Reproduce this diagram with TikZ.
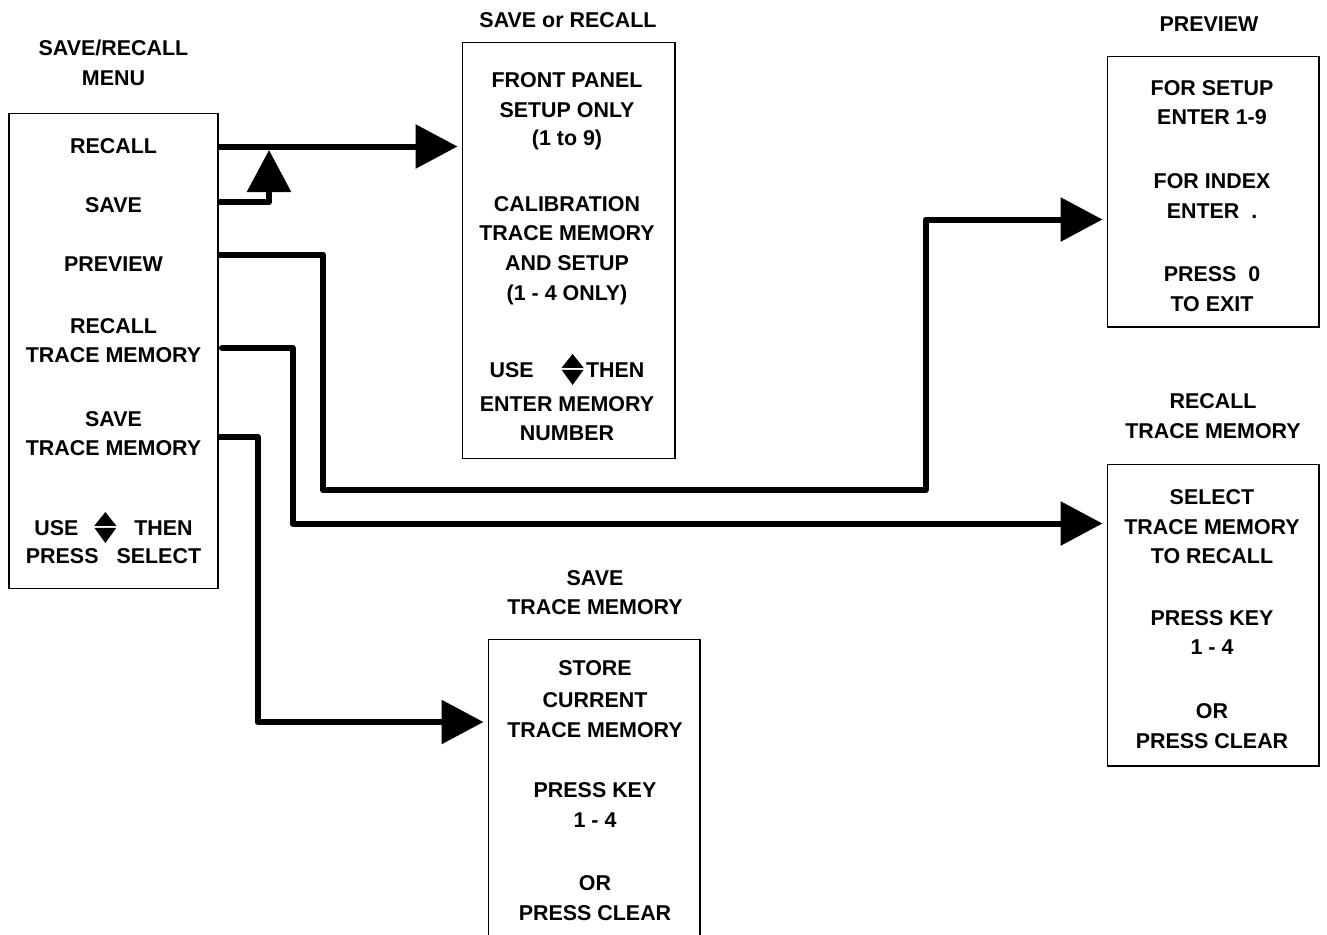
\documentclass[tikz,border=0pt]{standalone}
\usepackage{fontspec}
\setmainfont{Liberation Sans}
\usetikzlibrary{arrows.meta}
\newcommand{\updn}{\tikz[x=1cm,y=1cm,baseline=0pt]{\fill (-0.22,0.185)--(0.22,0.185)--(0,0.46)--cycle; \fill (-0.22,0.145)--(0.22,0.145)--(0,-0.16)--cycle;}}
\tikzset{
  box/.style={draw,line width=0.6pt,inner sep=0pt},
  lbl/.style={anchor=base,inner sep=0pt,font=\bfseries\fontsize{12.2}{14}\selectfont},
  flow/.style={line width=0.12cm,line join=round,-{Triangle[length=0.84cm,width=0.86cm]},shorten >=0.08cm}
}
\begin{document}
\begin{tikzpicture}[x=0.02cm,y=-0.02cm]
\useasboundingbox (0,0) rectangle (1327,934);
\node[box,minimum width=4.18cm,minimum height=9.52cm] (menu) at (113.5,351) {};
\node[box,minimum width=4.26cm,minimum height=8.34cm] (srbox) at (568.5,250.5) {};
\node[box,minimum width=4.24cm,minimum height=5.42cm] (pvbox) at (1213,191.5) {};
\node[box,minimum width=4.24cm,minimum height=6.04cm] (rtbox) at (1213,615) {};
\node[box,minimum width=4.24cm,minimum height=6.22cm] (stbox) at (594,794.5) {};
\foreach \y/\t [count=\i] in {55.5/{SAVE/RECALL},85.5/MENU,153.5/RECALL,212.5/SAVE,271.5/PREVIEW,
  333.5/RECALL,362.5/TRACE MEMORY,426.5/SAVE,455.5/TRACE MEMORY,
  535/{USE\hspace{0.32cm}\updn\hspace{0.36cm}THEN},563/{PRESS\hspace{0.36cm}SELECT}}
  \node[lbl] (m\i) at (113.5,\y) {\t};
\node[lbl] (srt) at (568,27.5) {SAVE or RECALL};
\foreach \y/\t [count=\i] in {87.5/FRONT PANEL,117.5/SETUP ONLY,145.5/(1 to 9),
  211.5/CALIBRATION,240.5/TRACE MEMORY,270.5/AND SETUP,300.5/(1 - 4 ONLY),
  377/{USE\hspace{0.56cm}\updn\hspace{0.05cm}THEN},411.5/ENTER MEMORY,440.5/NUMBER}
  \node[lbl] (sr\i) at (567,\y) {\t};
\node[lbl] (pvt) at (1209,31.5) {PREVIEW};
\foreach \y/\t [count=\i] in {95.5/FOR SETUP,124.5/ENTER 1-9,188.5/FOR INDEX,
  218.5/ENTER\ \ .,281.5/PRESS\ \ 0,311.5/TO EXIT}
  \node[lbl] (pv\i) at (1212,\y) {\t};
\foreach \y/\t [count=\i] in {408.5/RECALL,438.5/TRACE MEMORY}
  \node[lbl] (rtt\i) at (1213,\y) {\t};
\foreach \y/\t [count=\i] in {504.5/SELECT,534.5/TRACE MEMORY,563.5/TO RECALL,
  625.5/PRESS KEY,654.5/1 - 4,718.5/OR,748.5/PRESS CLEAR}
  \node[lbl] (rt\i) at (1212,\y) {\t};
\foreach \y/\t [count=\i] in {585.5/SAVE,614.5/TRACE MEMORY}
  \node[lbl] (stt\i) at (595,\y) {\t};
\foreach \y/\t [count=\i] in {675.5/STORE,707.5/CURRENT,737.5/TRACE MEMORY,
  797.5/PRESS KEY,827.5/1 - 4,890.5/OR,920.5/PRESS CLEAR}
  \node[lbl] (st\i) at (595,\y) {\t};
\coordinate (rclout) at (218,146.5);
\coordinate (savout) at (218,202);
\coordinate (savtip) at (269,150);
\coordinate (prvout) at (218,254.5);
\coordinate (prvdown) at (323,490);
\coordinate (pvbend) at (925.5,219.5);
\coordinate (rtmout) at (222,348);
\coordinate (rtbend) at (292.5,523.5);
\coordinate (stmout) at (218,436.5);
\coordinate (stbend) at (257.5,722);
\draw[flow] (rclout) -- (srbox.west |- rclout);
\draw[flow,shorten >=0pt] (savout) -| (savtip);
\draw[flow] (prvout) -| (prvdown) -| (pvbend) -- (pvbox.west |- pvbend);
\draw[flow,line cap=round] (rtmout) -| (rtbend) -- (rtbox.west |- rtbend);
\draw[flow] (stmout) -| (stbend) -- (stbox.west |- stbend);
\end{tikzpicture}
\end{document}
